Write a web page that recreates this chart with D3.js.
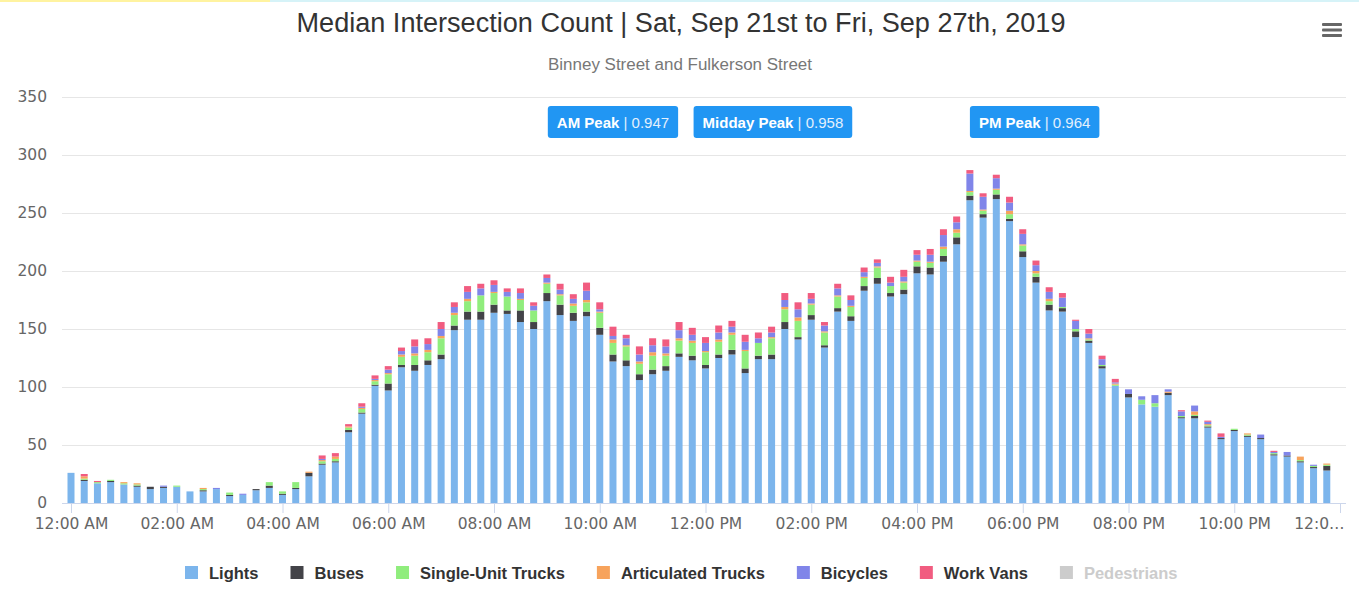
<!DOCTYPE html>
<html>
<head>
<meta charset="utf-8">
<script src="https://cdn.jsdelivr.net/npm/d3@7"></script>
<style>
  html, body { margin: 0; padding: 0; background: #fff; }
  #chart svg { display: block; }
</style>
</head>
<body>
<div id="chart"></div>
<script>
// 15-minute bins, 12:00 AM .. 11:45 PM
const lights = [26, 19, 17, 18, 16, 14, 12, 13, 14, 10, 10, 12, 6, 7, 11, 13,
  7, 12, 23, 33, 35, 61, 77, 101, 97, 117, 114, 119, 124, 149, 158, 158,
  164, 163, 156, 150, 174, 162, 157, 161, 145, 122, 118, 106, 111, 114, 126, 123,
  116, 125, 128, 112, 124, 124, 150, 141, 158, 134, 165, 157, 183, 189, 178, 180,
  198, 197, 208, 223, 261, 246, 262, 243, 212, 190, 166, 165, 143, 138, 116, 101,
  91, 85, 83, 93, 73, 73, 65, 55, 62, 57, 55, 41, 40, 35, 30, 28]
const buses = [0, 1, 0, 1, 0, 1, 2, 1, 0, 0, 1, 0, 1, 0, 1, 2,
  1, 1, 3, 1, 1, 2, 1, 1, 6, 2, 5, 4, 4, 4, 7, 7,
  7, 3, 10, 6, 7, 9, 7, 4, 6, 6, 5, 5, 4, 4, 3, 4,
  3, 3, 4, 4, 3, 4, 6, 2, 4, 2, 3, 4, 4, 5, 3, 4,
  6, 6, 5, 6, 4, 3, 4, 2, 5, 5, 5, 3, 5, 2, 2, 0,
  3, 0, 0, 2, 1, 2, 1, 1, 1, 1, 1, 1, 1, 1, 1, 4]
const singleUnit = [0, 1, 1, 1, 1, 1, 0, 0, 1, 0, 1, 0, 2, 0, 0, 3,
  2, 5, 0, 2, 2, 2, 3, 3, 8, 7, 8, 7, 14, 9, 9, 14,
  10, 12, 9, 10, 8, 8, 6, 8, 13, 10, 12, 9, 12, 9, 11, 11,
  11, 11, 13, 15, 11, 14, 11, 14, 9, 11, 10, 8, 7, 9, 6, 6,
  4, 4, 6, 4, 3, 3, 4, 4, 5, 3, 3, 1, 2, 1, 1, 1,
  0, 4, 3, 0, 1, 1, 1, 0, 1, 1, 0, 1, 0, 1, 1, 1]
const articulated = [0, 2, 0, 0, 1, 1, 0, 0, 0, 0, 1, 0, 0, 0, 0, 0,
  0, 0, 1, 1, 2, 1, 1, 1, 1, 2, 2, 2, 2, 2, 2, 0,
  1, 0, 1, 0, 1, 1, 2, 2, 1, 3, 1, 2, 3, 2, 2, 2,
  1, 2, 2, 1, 0, 1, 2, 3, 1, 1, 1, 1, 1, 1, 0, 1,
  1, 1, 2, 3, 1, 1, 1, 3, 1, 2, 2, 0, 0, 1, 0, 1,
  0, 0, 0, 1, 0, 3, 1, 0, 0, 1, 0, 0, 0, 3, 0, 1]
const bicycles = [0, 0, 0, 0, 0, 0, 0, 1, 0, 0, 0, 1, 0, 1, 0, 0,
  0, 0, 0, 1, 0, 0, 1, 1, 3, 3, 6, 5, 6, 5, 6, 6,
  6, 4, 5, 4, 4, 4, 4, 8, 2, 3, 6, 6, 6, 6, 7, 5,
  7, 6, 5, 7, 4, 4, 6, 7, 4, 5, 6, 5, 4, 3, 3, 4,
  5, 6, 10, 6, 15, 11, 9, 7, 9, 5, 6, 8, 7, 4, 5, 1,
  4, 3, 7, 2, 4, 5, 2, 1, 0, 0, 3, 1, 3, 0, 1, 0]
const workVans = [0, 2, 1, 0, 0, 0, 0, 0, 0, 0, 0, 0, 0, 0, 0, 0,
  0, 0, 0, 3, 3, 2, 3, 3, 3, 3, 6, 5, 6, 4, 5, 4,
  4, 3, 4, 3, 3, 5, 4, 7, 6, 8, 3, 7, 6, 6, 7, 6,
  5, 6, 5, 6, 5, 5, 6, 6, 5, 3, 4, 4, 4, 3, 5, 6,
  4, 5, 5, 5, 3, 3, 3, 5, 4, 4, 4, 4, 1, 4, 3, 3,
  0, 0, 0, 0, 1, 0, 1, 3, 0, 0, 0, 1, 0, 0, 0, 0]

const seriesNames = ['Lights', 'Buses', 'Single-Unit Trucks', 'Articulated Trucks', 'Bicycles', 'Work Vans', 'Pedestrians']
const seriesColors = ['#7cb5ec', '#434348', '#90ed7d', '#f7a35c', '#8085e9', '#f15c80', '#cccccc']
const seriesVisible = [true, true, true, true, true, true, false]

const xTickLabels = ['12:00 AM', '02:00 AM', '04:00 AM', '06:00 AM', '08:00 AM', '10:00 AM',
  '12:00 PM', '02:00 PM', '04:00 PM', '06:00 PM', '08:00 PM', '10:00 PM', '12:0…']

const peakNames = ['AM Peak', 'Midday Peak', 'PM Peak']
const peakFactors = ['0.947', '0.958', '0.964']
const peakAnchors = [41, 53.1, 72.9] // bin index under the label centre

const width = 1359
const height = 597
const plot = { left: 62, right: 1346, top: 97, bottom: 503 }

const svg = d3.select('#chart').append('svg')
  .attr('width', width)
  .attr('height', height)
  .style('font-family', '"Liberation Sans", Arial, sans-serif')

// thin coloured strip along the top edge of the page
svg.append('rect').attr('x', 0).attr('y', 0).attr('width', 270).attr('height', 2).attr('fill', '#fff3a0')
svg.append('rect').attr('x', 270).attr('y', 0).attr('width', width - 270).attr('height', 2).attr('fill', '#d6f3f8')

const x = d3.scaleLinear()
  .domain([0, 96])
  .range([71, 1340])

const y = d3.scaleLinear()
  .domain([0, 350])
  .range([plot.bottom, plot.top])

// grid + y labels
const yAxis = svg.append('g')
  .attr('transform', `translate(${plot.left},0)`)
  .call(d3.axisLeft(y).tickValues(d3.range(0, 351, 50)).tickSize(-(plot.right - plot.left)).tickPadding(15))
yAxis.select('.domain').remove()
yAxis.selectAll('.tick line').attr('stroke', '#e6e6e6')
yAxis.selectAll('.tick text')
  .attr('fill', '#666')
  .style('font-family', '"DejaVu Sans", Verdana, sans-serif')
  .style('font-size', '15.5px')

// stacked bars
const keys = ['lights', 'buses', 'singleUnit', 'articulated', 'bicycles', 'workVans']
const rows = lights.map((v, i) => ({
  lights: v,
  buses: buses[i],
  singleUnit: singleUnit[i],
  articulated: articulated[i],
  bicycles: bicycles[i],
  workVans: workVans[i]
}))
const stacked = d3.stack().keys(keys)(rows)
const barWidth = 7

svg.append('g')
  .selectAll('g')
  .data(stacked)
  .enter()
  .append('g')
  .attr('fill', (d, i) => seriesColors[i])
  .selectAll('rect')
  .data(d => d)
  .enter()
  .append('rect')
  .attr('x', (d, i) => x(i) - barWidth / 2)
  .attr('y', d => y(d[1]))
  .attr('width', barWidth)
  .attr('height', d => Math.max(0, y(d[0]) - y(d[1])))

// x axis
svg.append('line')
  .attr('x1', plot.left).attr('x2', plot.right)
  .attr('y1', plot.bottom + 0.5).attr('y2', plot.bottom + 0.5)
  .attr('stroke', '#ccd6eb')
const xAxis = svg.append('g')
  .attr('transform', `translate(0,${plot.bottom})`)
  .call(d3.axisBottom(x).tickValues(d3.range(0, 97, 8)).tickFormat((d, i) => xTickLabels[i]).tickSize(10).tickPadding(5))
xAxis.select('.domain').remove()
xAxis.selectAll('.tick line').attr('stroke', '#ccd6eb')
xAxis.selectAll('.tick text')
  .attr('fill', '#666')
  .style('font-family', '"DejaVu Sans", Verdana, sans-serif')
  .style('font-size', '15.5px')
// the last label is clipped by the chart edge, keep it inside
xAxis.selectAll('.tick text')
  .filter((d, i) => i === xTickLabels.length - 1)
  .attr('text-anchor', 'end')
  .attr('dx', 4)

// titles
svg.append('text')
  .attr('x', 681).attr('y', 32)
  .attr('text-anchor', 'middle')
  .attr('fill', '#333')
  .attr('textLength', 769).attr('lengthAdjust', 'spacingAndGlyphs')
  .style('font-size', '27px')
  .text('Median Intersection Count | Sat, Sep 21st to Fri, Sep 27th, 2019')

svg.append('text')
  .attr('x', 680).attr('y', 70)
  .attr('text-anchor', 'middle')
  .attr('fill', '#777')
  .attr('textLength', 264).attr('lengthAdjust', 'spacingAndGlyphs')
  .style('font-size', '16px')
  .text('Binney Street and Fulkerson Street')

// export menu icon
svg.append('g')
  .selectAll('rect')
  .data([0, 1, 2])
  .enter()
  .append('rect')
  .attr('x', 1322).attr('y', d => 23 + d * 5.5)
  .attr('width', 20).attr('height', 3).attr('rx', 1)
  .attr('fill', '#666')

// peak hour labels
const peaks = svg.append('g')
  .selectAll('g')
  .data(peakNames)
  .enter()
  .append('g')
peaks.each(function (name, i) {
  const g = d3.select(this)
  const box = g.append('rect')
  const t = g.append('text')
    .attr('y', 128)
    .attr('fill', '#fff')
    .style('font-size', '15px')
  t.append('tspan').attr('font-weight', 'bold').text(name)
  t.append('tspan').attr('fill', '#e3f0fd').text(' | ' + peakFactors[i])
  const w = t.node().getComputedTextLength() + 18
  const cx = x(peakAnchors[i])
  t.attr('x', cx - w / 2 + 9)
  box.attr('x', cx - w / 2).attr('y', 106)
    .attr('width', w).attr('height', 32)
    .attr('rx', 3)
    .attr('fill', '#2196f3')
})

// legend
const legend = svg.append('g')
let lx = 185
seriesNames.forEach((name, i) => {
  legend.append('rect')
    .attr('x', lx).attr('y', 566)
    .attr('width', 13).attr('height', 13)
    .attr('fill', seriesVisible[i] ? seriesColors[i] : '#cccccc')
  const t = legend.append('text')
    .attr('x', lx + 24).attr('y', 579)
    .attr('fill', seriesVisible[i] ? '#333' : '#cccccc')
    .attr('font-weight', 'bold')
    .style('font-size', '16.5px')
    .text(name)
  lx += 24 + t.node().getComputedTextLength() + 32
})
</script>
</body>
</html>
